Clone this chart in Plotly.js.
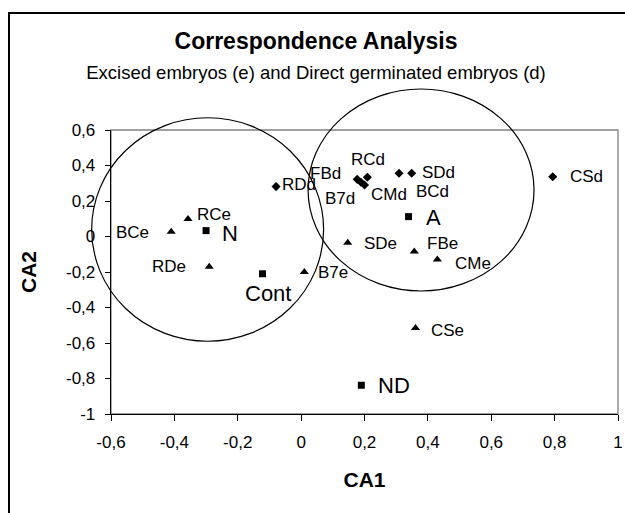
<!DOCTYPE html>
<html>
<head>
<meta charset="utf-8">
<script src="https://cdn.plot.ly/plotly-3.0.1.min.js"></script>
<style>html,body{margin:0;padding:0;background:#fff;}</style>
</head>
<body>
<div id="chart" style="width:625px;height:513px;"></div>
<script>
// ---- data ----
const eLabels = ['BCe', 'RCe', 'RDe', 'B7e', 'SDe', 'FBe', 'CMe', 'CSe'];
const eX = [-0.41, -0.357, -0.29, 0.01, 0.147, 0.357, 0.43, 0.361];
const eY = [0.027, 0.098, -0.17, -0.2, -0.035, -0.084, -0.13, -0.516];

const dLabels = ['RDd', 'FBd', 'RCd', 'B7d', 'CMd', 'BCd', 'SDd', 'CSd'];
const dX = [-0.079, 0.177, 0.209, 0.189, 0.2, 0.309, 0.349, 0.794];
const dY = [0.281, 0.322, 0.334, 0.306, 0.29, 0.356, 0.356, 0.337];

const sLabels = ['N', 'Cont', 'A', 'ND'];
const sX = [-0.30, -0.122, 0.339, 0.19];
const sY = [0.033, -0.21, 0.112, -0.838];

const xTickVals = [-0.6, -0.4, -0.2, 0, 0.2, 0.4, 0.6, 0.8, 1];
const xTickText = ['-0,6', '-0,4', '-0,2', '0', '0,2', '0,4', '0,6', '0,8', '1'];
const yTickVals = [-1, -0.8, -0.6, -0.4, -0.2, 0, 0.2, 0.4, 0.6];
const yTickText = ['-1', '-0,8', '-0,6', '-0,4', '-0,2', '0', '0,2', '0,4', '0,6'];

// group ellipses (data coords: x0, x1, y0, y1)
const groupLeft = [-0.661, 0.071, -0.590, 0.669];
const groupRight = [0.022, 0.735, -0.307, 0.831];

// ---- label placement (style) ----
const eOff = [['right', -20, 1], ['left', 7, -5], ['right', -21, 0], ['left', 12, 0], ['left', 14, 1], ['left', 11, -8], ['left', 16, 4], ['left', 13, 2]];
const dOff = [['left', 4, -2], ['right', -14, -6], ['center', 1, -18], ['right', -4, 16], ['left', 4, 9], ['center', 33, 18], ['left', 8, -1], ['left', 15, 0]];
const sOff = [['left', 14, 3], ['center', 6, 20], ['left', 15, 1], ['left', 15, 0]];

const FONT = 'Liberation Sans, Arial, sans-serif';
const xRange = [-0.6, 1];
const yRange = [-1, 0.6];

function px(v) { return (v - xRange[0]) / (xRange[1] - xRange[0]); }
function py(v) { return (v - yRange[0]) / (yRange[1] - yRange[0]); }

function labelAnns(xs, ys, labels, offs, size) {
  return labels.map((t, i) => ({
    x: xs[i], y: ys[i], xref: 'x', yref: 'y', text: t, showarrow: false,
    xanchor: offs[i][0], yanchor: 'middle', xshift: offs[i][1], yshift: -offs[i][2],
    font: {family: FONT, size: size, color: '#000'}
  }));
}

const traces = [
  {x: eX, y: eY, text: eLabels, mode: 'markers', type: 'scatter', name: 'Excised embryos',
   marker: {symbol: 'triangle-up', size: 8, color: '#000'}, hoverinfo: 'text+x+y'},
  {x: dX, y: dY, text: dLabels, mode: 'markers', type: 'scatter', name: 'Direct germinated embryos',
   marker: {symbol: 'diamond', size: 7, color: '#000'}, hoverinfo: 'text+x+y'},
  {x: sX, y: sY, text: sLabels, mode: 'markers', type: 'scatter', name: 'Treatments',
   marker: {symbol: 'square', size: 7, color: '#000'}, hoverinfo: 'text+x+y'}
];

function ellipse(g) {
  return {type: 'circle', xref: 'paper', yref: 'paper', layer: 'below',
    x0: px(g[0]), x1: px(g[1]), y0: py(g[2]), y1: py(g[3]),
    line: {color: '#000', width: 1.2}, fillcolor: 'rgba(0,0,0,0)'};
}

const L = 111, R = 7, T = 130, B = 99, W = 625, H = 513;
const pw = W - L - R, ph = H - T - B;
function pxX(p) { return (p - L) / pw; }
function pxY(p) { return ((H - B) - p) / ph; }

const shapes = [
  // outer chart frame (left and top edges; right/bottom fall outside the picture)
  {type: 'rect', xref: 'paper', yref: 'paper', layer: 'above',
   x0: pxX(9), x1: pxX(W + 10), y0: pxY(H + 10), y1: pxY(13),
   line: {color: '#000', width: 2}, fillcolor: 'rgba(0,0,0,0)'},
  // plot area border
  {type: 'rect', xref: 'paper', yref: 'paper', layer: 'below', x0: 0, x1: 1, y0: 0, y1: 1,
   line: {color: '#808080', width: 1.3}, fillcolor: 'rgba(0,0,0,0)'},
  ellipse(groupLeft),
  ellipse(groupRight)
];

const annotations = [].concat(
  labelAnns(eX, eY, eLabels, eOff, 17),
  labelAnns(dX, dY, dLabels, dOff, 17),
  labelAnns(sX, sY, sLabels, sOff, 22)
);

const axisCommon = {
  showgrid: false, zeroline: false, showline: true, linecolor: '#000', linewidth: 1.3,
  ticks: 'outside', tickcolor: '#000', tickwidth: 1, tickmode: 'array',
  tickfont: {family: FONT, size: 17, color: '#000'}
};

const layout = {
  width: W, height: H,
  margin: {l: L, r: R, t: T, b: B, pad: 0},
  paper_bgcolor: '#fff', plot_bgcolor: 'rgba(0,0,0,0)',
  showlegend: false,
  font: {family: FONT, color: '#000'},
  title: {
    text: '<b>Correspondence Analysis</b><br><span style="font-size:18.5px">Excised embryos (e) and Direct germinated embryos (d)</span>',
    font: {family: FONT, size: 23, color: '#000'},
    xref: 'paper', x: (316 - L) / pw, xanchor: 'center',
    yref: 'container', y: 1 - 49 / H, yanchor: 'middle'
  },
  xaxis: Object.assign({}, axisCommon, {
    range: xRange, tickvals: xTickVals, ticktext: xTickText, ticklen: 6, ticklabelstandoff: 6,
    title: {text: '<b>CA1</b>', font: {family: FONT, size: 21, color: '#000'}, standoff: 21}
  }),
  yaxis: Object.assign({}, axisCommon, {
    range: yRange, tickvals: yTickVals, ticktext: yTickText, ticklen: 5, ticklabelstandoff: 6,
    title: {text: '<b>CA2</b>', font: {family: FONT, size: 21, color: '#000'}, standoff: 23}
  }),
  shapes: shapes,
  annotations: annotations
};

Plotly.newPlot('chart', traces, layout, {displayModeBar: false, staticPlot: true});
</script>
</body>
</html>
